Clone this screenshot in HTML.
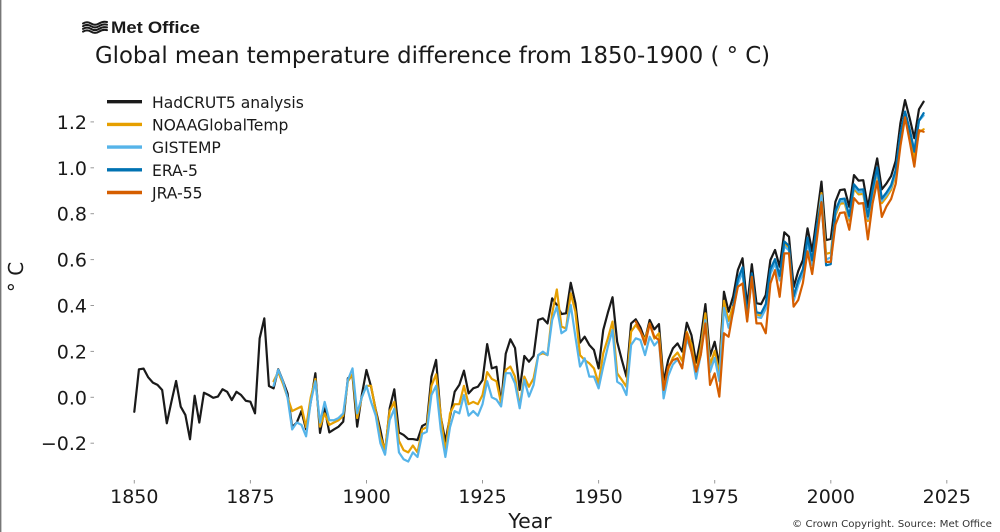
<!DOCTYPE html>
<html>
<head>
<meta charset="utf-8">
<style>
  html, body { margin:0; padding:0; background:#ffffff; }
  svg { display:block; }
  .t { font-family: "DejaVu Sans", "Liberation Sans", sans-serif; fill:#1a1a1a; }
  .s { fill:none; stroke-linejoin:round; stroke-linecap:round; stroke-width:2.2; }
</style>
</head>
<body>
<svg width="1000" height="532" viewBox="0 0 1000 532" xmlns="http://www.w3.org/2000/svg">
  <rect x="0" y="0" width="1000" height="532" fill="#ffffff"/>
  <line x1="0.7" y1="0" x2="0.7" y2="532" stroke="#777" stroke-width="1.4"/>

  <!-- Met Office logo -->
  <g fill="none" stroke="#1a1a1a" stroke-width="2" stroke-linecap="round">
    <path d="M83,23.5 q4,-2.5 8,0 t8,0 t8,-1.5"/>
    <path d="M83,26.2 q4,-2.5 8,0 t8,0 t8,-1.5"/>
    <path d="M83,28.9 q4,-2.5 8,0 t8,0 t8,-1.5"/>
    <path d="M83,31.6 q4,-2.5 8,0 t8,0 t8,-1.5"/>
  </g>
  <text x="111" y="33" font-family="Liberation Sans, Arial, sans-serif" font-weight="bold" font-size="17" fill="#1a1a1a" textLength="89" lengthAdjust="spacingAndGlyphs">Met Office</text>

  <!-- Title -->
  <text class="t" x="95" y="63" font-size="22.7" textLength="675" lengthAdjust="spacingAndGlyphs">Global mean temperature difference from 1850-1900 ( ° C)</text>

  <!-- Y ticks -->
  <g stroke="#999" stroke-width="1">
    <line x1="90.5" y1="443.2" x2="94" y2="443.2"/>
    <line x1="90.5" y1="397.3" x2="94" y2="397.3"/>
    <line x1="90.5" y1="351.4" x2="94" y2="351.4"/>
    <line x1="90.5" y1="305.5" x2="94" y2="305.5"/>
    <line x1="90.5" y1="259.6" x2="94" y2="259.6"/>
    <line x1="90.5" y1="213.7" x2="94" y2="213.7"/>
    <line x1="90.5" y1="167.8" x2="94" y2="167.8"/>
    <line x1="90.5" y1="121.9" x2="94" y2="121.9"/>
  </g>
  <g class="t" font-size="19" text-anchor="end">
    <text x="87" y="450.2">−0.2</text>
    <text x="87" y="404.3">0.0</text>
    <text x="87" y="358.4">0.2</text>
    <text x="87" y="312.5">0.4</text>
    <text x="87" y="266.6">0.6</text>
    <text x="87" y="220.7">0.8</text>
    <text x="87" y="174.8">1.0</text>
    <text x="87" y="128.9">1.2</text>
  </g>

  <!-- X ticks -->
  <g stroke="#999" stroke-width="1">
    <line x1="134.3" y1="480" x2="134.3" y2="483.5"/>
    <line x1="250.4" y1="480" x2="250.4" y2="483.5"/>
    <line x1="366.5" y1="480" x2="366.5" y2="483.5"/>
    <line x1="482.5" y1="480" x2="482.5" y2="483.5"/>
    <line x1="598.6" y1="480" x2="598.6" y2="483.5"/>
    <line x1="714.7" y1="480" x2="714.7" y2="483.5"/>
    <line x1="830.8" y1="480" x2="830.8" y2="483.5"/>
    <line x1="946.8" y1="480" x2="946.8" y2="483.5"/>
  </g>
  <g class="t" font-size="19" text-anchor="middle">
    <text x="134.3" y="503">1850</text>
    <text x="250.4" y="503">1875</text>
    <text x="366.5" y="503">1900</text>
    <text x="482.5" y="503">1925</text>
    <text x="598.6" y="503">1950</text>
    <text x="714.7" y="503">1975</text>
    <text x="830.8" y="503">2000</text>
    <text x="946.8" y="503">2025</text>
  </g>

  <!-- Axis labels -->
  <text class="t" x="530" y="528" font-size="20.5" text-anchor="middle">Year</text>
  <text class="t" transform="translate(23,277) rotate(-90)" font-size="20" text-anchor="middle">° C</text>

  <!-- Copyright -->
  <text x="792" y="527" font-family="DejaVu Sans, Liberation Sans, sans-serif" font-size="9.8" fill="#333" textLength="200" lengthAdjust="spacingAndGlyphs">© Crown Copyright. Source: Met Office</text>

  <!-- Data series -->
  <g transform="matrix(4.643 0 0 -229.5 134.3 397.3)">
    <polyline class="s" vector-effect="non-scaling-stroke" stroke="#1a1a1a" points="0,-0.063 1,0.122 2,0.125 3,0.087 4,0.064 5,0.054 6,0.032 7,-0.113 8,-0.019 9,0.071 10,-0.041 11,-0.077 12,-0.183 13,0.007 14,-0.11 15,0.02 16,0.01 17,-0.002 18,0.003 19,0.035 20,0.024 21,-0.012 22,0.024 23,0.01 24,-0.015 25,-0.019 26,-0.07 27,0.257 28,0.344 29,0.049 30,0.039 31,0.122 32,0.072 33,0.017 34,-0.13 35,-0.11 36,-0.06 37,-0.14 38,-0.02 39,0.105 40,-0.155 41,-0.048 42,-0.153 43,-0.14 44,-0.128 45,-0.106 46,0.083 47,0.094 48,-0.128 49,0.01 50,0.119 51,0.046 52,-0.055 53,-0.142 54,-0.244 55,-0.048 56,0.035 57,-0.153 58,-0.164 59,-0.182 60,-0.182 61,-0.186 62,-0.125 63,-0.114 64,0.09 65,0.163 66,-0.084 67,-0.193 68,-0.084 69,0.024 70,0.054 71,0.116 72,0.017 73,0.039 74,0.046 75,0.075 76,0.232 77,0.126 78,0.133 79,-0.03 80,0.19 81,0.253 82,0.215 83,0.032 84,0.18 85,0.155 86,0.18 87,0.337 88,0.344 89,0.322 90,0.431 91,0.402 92,0.363 93,0.366 94,0.499 95,0.41 96,0.238 97,0.264 98,0.228 99,0.206 100,0.126 101,0.293 102,0.369 103,0.436 104,0.242 105,0.163 106,0.09 107,0.322 108,0.34 109,0.305 110,0.25 111,0.337 112,0.296 113,0.319 114,0.068 115,0.163 116,0.213 117,0.235 118,0.199 119,0.325 120,0.271 121,0.151 122,0.256 123,0.406 124,0.18 125,0.242 126,0.141 127,0.46 128,0.373 129,0.441 130,0.555 131,0.606 132,0.395 133,0.58 134,0.41 135,0.406 136,0.446 137,0.598 138,0.642 139,0.569 140,0.719 141,0.7 142,0.48 143,0.55 144,0.598 145,0.736 146,0.637 147,0.787 148,0.94 149,0.685 150,0.69 151,0.852 152,0.903 153,0.906 154,0.83 155,0.968 156,0.944 157,0.946 158,0.828 159,0.944 160,1.041 161,0.906 162,0.932 163,0.964 164,1.031 165,1.194 166,1.295 167,1.216 168,1.129 169,1.255 170,1.288"/>
    <polyline class="s" vector-effect="non-scaling-stroke" stroke="#e69f00" points="30,0.07 31,0.11 32,0.06 33,0.0 34,-0.06 35,-0.05 36,-0.04 37,-0.13 38,0.0 39,0.08 40,-0.128 41,-0.07 42,-0.12 43,-0.11 44,-0.1 45,-0.08 46,0.07 47,0.1 48,-0.09 49,0.0 50,0.05 51,0.05 52,-0.06 53,-0.17 54,-0.23 55,-0.06 56,-0.02 57,-0.19 58,-0.23 59,-0.24 60,-0.21 61,-0.24 62,-0.14 63,-0.13 64,0.05 65,0.1 66,-0.08 67,-0.24 68,-0.07 69,-0.03 70,-0.03 71,0.05 72,-0.03 73,-0.02 74,-0.03 75,0.01 76,0.11 77,0.08 78,0.07 79,-0.026 80,0.119 81,0.134 82,0.09 83,-0.04 84,0.09 85,0.046 86,0.083 87,0.184 88,0.192 89,0.184 90,0.366 91,0.47 92,0.308 93,0.3 94,0.453 95,0.373 96,0.184 97,0.162 98,0.148 99,0.126 100,0.06 101,0.192 102,0.257 103,0.33 104,0.105 105,0.076 106,0.046 107,0.286 108,0.315 109,0.286 110,0.25 111,0.322 112,0.256 113,0.279 114,0.04 115,0.123 116,0.173 117,0.195 118,0.159 119,0.285 120,0.231 121,0.111 122,0.216 123,0.366 124,0.14 125,0.202 126,0.101 127,0.42 128,0.333 129,0.401 130,0.505 131,0.556 132,0.345 133,0.53 134,0.36 135,0.356 136,0.396 137,0.548 138,0.592 139,0.519 140,0.669 141,0.65 142,0.43 143,0.5 144,0.548 145,0.686 146,0.587 147,0.737 148,0.89 149,0.625 150,0.63 151,0.792 152,0.843 153,0.846 154,0.77 155,0.908 156,0.884 157,0.886 158,0.768 159,0.884 160,0.981 161,0.846 162,0.872 163,0.904 164,0.971 165,1.124 166,1.215 167,1.136 168,1.039 169,1.155 170,1.168"/>
    <polyline class="s" vector-effect="non-scaling-stroke" stroke="#56b4e9" points="30,0.05 31,0.12 32,0.07 33,0.0 34,-0.14 35,-0.11 36,-0.12 37,-0.17 38,-0.02 39,0.07 40,-0.11 41,-0.02 42,-0.1 43,-0.1 44,-0.09 45,-0.07 46,0.076 47,0.126 48,-0.07 49,0.0 50,0.05 51,-0.02 52,-0.08 53,-0.2 54,-0.25 55,-0.1 56,-0.05 57,-0.24 58,-0.27 59,-0.28 60,-0.24 61,-0.26 62,-0.16 63,-0.15 64,0.01 65,0.05 66,-0.14 67,-0.26 68,-0.13 69,-0.06 70,-0.07 71,0.01 72,-0.08 73,-0.06 74,-0.08 75,-0.03 76,0.07 77,0.0 78,-0.01 79,-0.04 80,0.105 81,0.105 82,0.06 83,-0.048 84,0.076 85,0.003 86,0.054 87,0.184 88,0.199 89,0.184 90,0.337 91,0.395 92,0.279 93,0.293 94,0.402 95,0.264 96,0.134 97,0.17 98,0.09 99,0.09 100,0.039 101,0.134 102,0.221 103,0.293 104,0.068 105,0.054 106,0.01 107,0.228 108,0.257 109,0.25 110,0.184 111,0.264 112,0.226 113,0.249 114,-0.005 115,0.093 116,0.143 117,0.165 118,0.129 119,0.255 120,0.201 121,0.081 122,0.186 123,0.336 124,0.11 125,0.172 126,0.071 127,0.39 128,0.303 129,0.371 130,0.495 131,0.546 132,0.335 133,0.52 134,0.35 135,0.346 136,0.386 137,0.538 138,0.582 139,0.509 140,0.659 141,0.64 142,0.42 143,0.49 144,0.538 145,0.676 146,0.577 147,0.727 148,0.88 149,0.6 150,0.61 151,0.802 152,0.853 153,0.856 154,0.78 155,0.918 156,0.894 157,0.896 158,0.778 159,0.894 160,0.991 161,0.856 162,0.882 163,0.914 164,0.981 165,1.144 166,1.245 167,1.166 168,1.079 169,1.205 170,1.228"/>
    <polyline class="s" vector-effect="non-scaling-stroke" stroke="#0072b2" points="129,0.401 130,0.515 131,0.566 132,0.355 133,0.54 134,0.37 135,0.366 136,0.406 137,0.558 138,0.602 139,0.529 140,0.679 141,0.66 142,0.44 143,0.51 144,0.558 145,0.696 146,0.597 147,0.747 148,0.85 149,0.575 150,0.58 151,0.812 152,0.863 153,0.866 154,0.79 155,0.928 156,0.904 157,0.906 158,0.788 159,0.904 160,1.001 161,0.866 162,0.892 163,0.924 164,0.991 165,1.144 166,1.245 167,1.166 168,1.07 169,1.205 170,1.238"/>
    <polyline class="s" vector-effect="non-scaling-stroke" stroke="#d55e00" points="108,0.33 109,0.29 110,0.23 111,0.32 112,0.264 113,0.25 114,0.032 115,0.133 116,0.162 117,0.17 118,0.126 119,0.279 120,0.199 121,0.112 122,0.184 123,0.322 124,0.054 125,0.104 126,0.003 127,0.279 128,0.264 129,0.38 130,0.482 131,0.496 132,0.33 133,0.525 134,0.322 135,0.322 136,0.279 137,0.496 138,0.554 139,0.438 140,0.627 141,0.627 142,0.395 143,0.424 144,0.498 145,0.636 146,0.537 147,0.687 148,0.85 149,0.59 150,0.59 151,0.752 152,0.803 153,0.806 154,0.73 155,0.868 156,0.844 157,0.846 158,0.688 159,0.844 160,0.941 161,0.786 162,0.832 163,0.864 164,0.931 165,1.094 166,1.22 167,1.116 168,1.005 169,1.164 170,1.157"/>
  </g>

  <!-- Legend -->
  <g stroke-width="3.4" stroke-linecap="butt">
    <line x1="107" y1="101.7" x2="142" y2="101.7" stroke="#1a1a1a"/>
    <line x1="107" y1="124.4" x2="142" y2="124.4" stroke="#e69f00"/>
    <line x1="107" y1="147.1" x2="142" y2="147.1" stroke="#56b4e9"/>
    <line x1="107" y1="169.8" x2="142" y2="169.8" stroke="#0072b2"/>
    <line x1="107" y1="192.5" x2="142" y2="192.5" stroke="#d55e00"/>
  </g>
  <g class="t" font-size="15.6">
    <text x="152" y="107.8">HadCRUT5 analysis</text>
    <text x="152" y="130.5">NOAAGlobalTemp</text>
    <text x="152" y="153.2">GISTEMP</text>
    <text x="152" y="175.9">ERA-5</text>
    <text x="152" y="198.6">JRA-55</text>
  </g>
</svg>
</body>
</html>
